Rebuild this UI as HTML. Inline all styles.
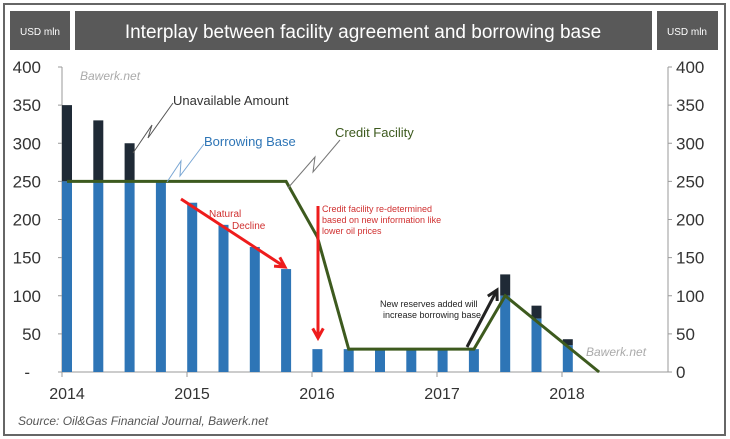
<!DOCTYPE html>
<html><head><meta charset="utf-8"><style>
body{margin:0;background:#fff;font-family:"Liberation Sans",sans-serif}
svg{display:block}
text{font-family:"Liberation Sans",sans-serif}
</style></head><body>
<svg width="730" height="439" viewBox="0 0 730 439">
<rect x="4" y="4" width="721" height="431" fill="#fff" stroke="#666" stroke-width="2"/>
<rect x="10" y="11" width="60" height="39" fill="#595959"/>
<text x="40" y="35" fill="#fff" font-size="10" text-anchor="middle">USD mln</text>
<rect x="75" y="11" width="577" height="39" fill="#595959"/>
<text x="363" y="38" fill="#fff" font-size="19" text-anchor="middle">Interplay between facility agreement and borrowing base</text>
<rect x="657" y="11" width="61" height="39" fill="#595959"/>
<text x="687" y="35" fill="#fff" font-size="10" text-anchor="middle">USD mln</text>
<g id="plot"></g>
<text x="80" y="80" fill="#aaa" font-size="12" font-style="italic">Bawerk.net</text>
<text x="586" y="356" fill="#aaa" font-size="12" font-style="italic">Bawerk.net</text>
<text x="18" y="425" fill="#555" font-size="12" font-style="italic">Source: Oil&amp;Gas Financial Journal, Bawerk.net</text>
<text x="173" y="105" fill="#333" font-size="13">Unavailable Amount</text>
<polyline points="133,153 152,125 148,138 173,103" fill="none" stroke="#555" stroke-width="1"/>
<text x="204" y="146" fill="#2e75b6" font-size="13">Borrowing Base</text>
<polyline points="167,182 181,161 180,176 204,144" fill="none" stroke="#7aa7d4" stroke-width="1"/>
<text x="335" y="137" fill="#3d5a1e" font-size="13">Credit Facility</text>
<polyline points="288,188 315,157 313,172 340,140" fill="none" stroke="#777" stroke-width="1"/>
<text x="209" y="217" fill="#d03030" font-size="10">Natural</text>
<text x="232" y="229" fill="#d03030" font-size="10">Decline</text>
<text x="322" y="212" fill="#d03030" font-size="9">Credit facility re-determined</text>
<text x="322" y="223" fill="#d03030" font-size="9">based on new information like</text>
<text x="322" y="234" fill="#d03030" font-size="9">lower oil prices</text>
<text x="380" y="307" fill="#222" font-size="9">New reserves added will</text>
<text x="383" y="318" fill="#222" font-size="9">increase borrowing base</text>
</svg>
<script>
const quarters=["Q1-14","Q2-14","Q3-14","Q4-14","Q1-15","Q2-15","Q3-15","Q4-15","Q1-16","Q2-16","Q3-16","Q4-16","Q1-17","Q2-17","Q3-17","Q4-17","Q1-18"];
const borrowingBase=[250,250,250,250,222,193,164,135,30,30,30,30,30,30,100,70,35];
const totalAmount=[350,330,300,250,222,193,164,135,30,30,30,30,30,30,128,87,43];
const facilityIdx=[0,7,8,9,13,14,17];
const facilityVal=[250,250,177,30,30,100,0];
const yTicks=[0,50,100,150,200,250,300,350,400];
const years=["2014","2015","2016","2017","2018"];
const NS="http://www.w3.org/2000/svg";
const g=document.getElementById('plot');
const y=v=>372-v*0.7625;
const xq=i=>67+i*31.3;
const xy=i=>62+i*125;
function mk(t,a){const e=document.createElementNS(NS,t);for(const k in a)e.setAttribute(k,a[k]);g.appendChild(e);return e;}
let e;
e=mk('line',{x1:62,y1:67,x2:62,y2:372,stroke:'#999'});


e=mk('line',{x1:668,y1:67,x2:668,y2:372,stroke:'#999'});


e=mk('line',{x1:62,y1:372,x2:668,y2:372,stroke:'#999'});


yTicks.forEach(v=>{
 e=mk('line',{x1:58,x2:62,y1:y(v),y2:y(v),stroke:'#999'});
 
 
 e=mk('line',{x1:668,x2:672,y1:y(v),y2:y(v),stroke:'#999'});
 
 
 e=mk('text',{x:v===0?30:41,y:y(v)+6,'font-size':17,fill:'#333','text-anchor':'end'});
 e.textContent=v===0?'-':String(v);
 
 
 e=mk('text',{x:676,y:y(v)+6,'font-size':17,fill:'#333'});
 e.textContent=String(v);
 
 
});
years.forEach((t,i)=>{
 e=mk('line',{x1:xy(i),x2:xy(i),y1:372,y2:377,stroke:'#999'});
 
 
 e=mk('text',{x:xy(i)+5,y:399,'font-size':16,fill:'#333','text-anchor':'middle'});
 e.textContent=t;
 
 
});
quarters.forEach((q,i)=>{
 if(totalAmount[i]>borrowingBase[i]){
  e=mk('rect',{x:xq(i)-5,width:10,y:y(totalAmount[i]),height:y(borrowingBase[i])-y(totalAmount[i]),fill:'#1f2a36'});
  
  
 }
 e=mk('rect',{x:xq(i)-5,width:10,y:y(borrowingBase[i]),height:372-y(borrowingBase[i]),fill:'#2e75b6'});
 
 
});
e=mk('polyline',{points:facilityIdx.map((q,i)=>xq(q)+','+y(facilityVal[i])).join(' '),fill:'none',stroke:'#3d5a1e','stroke-width':3});


function arrow(x1,y1,x2,y2,c,name){
 e=mk('line',{x1,y1,x2,y2,stroke:c,'stroke-width':3});
 
 
 const a=Math.atan2(y2-y1,x2-x1),L=11;
 const p=[[x2,y2],[x2-L*Math.cos(a-0.5),y2-L*Math.sin(a-0.5)],[x2,y2],[x2-L*Math.cos(a+0.5),y2-L*Math.sin(a+0.5)]];
 e=mk('polyline',{points:p.map(q=>q.join(',')).join(' '),fill:'none',stroke:c,'stroke-width':3});
 
 
}
arrow(181,199,285,267,'#ee1c1c','natural-decline-arrow');
arrow(318,206,318,338,'#ee1c1c','redetermination-arrow');
arrow(467,347,497,290,'#222','reserves-arrow');
</script>
</body></html>
